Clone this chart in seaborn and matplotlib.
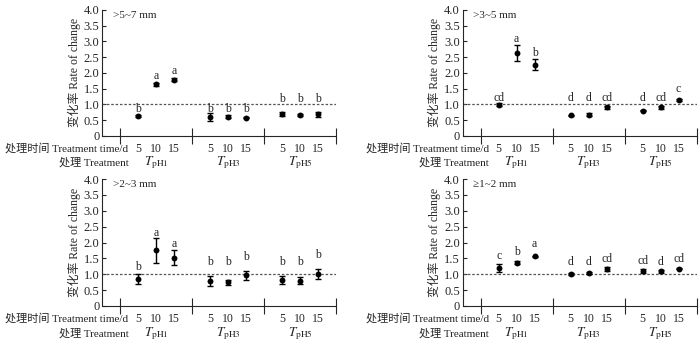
import numpy as np
import pandas as pd
import matplotlib
matplotlib.use('Agg')
import matplotlib.pyplot as plt
import seaborn as sns

# 데이터
times = [5, 10, 15]
treatments = ['pH1', 'pH3', 'pH5']
size_classes = ['>5~7 mm', '>3~5 mm', '>2~3 mm', '≥1~2 mm']

mean_57 = [0.63, 1.64, 1.78, 0.59, 0.61, 0.58, 0.70, 0.66, 0.68]
err_57 = [0.04, 0.05, 0.05, 0.13, 0.04, 0.02, 0.07, 0.03, 0.07]
letters_57 = ['b', 'a', 'a', 'b', 'b', 'b', 'b', 'b', 'b']
letter_y_57 = [0.76, 1.82, 1.97, 0.76, 0.76, 0.76, 1.09, 1.09, 1.09]

mean_35 = [0.99, 2.64, 2.26, 0.65, 0.67, 0.91, 0.80, 0.91, 1.13]
err_35 = [0.04, 0.25, 0.17, 0.01, 0.04, 0.05, 0.02, 0.05, 0.03]
letters_35 = ['cd', 'a', 'b', 'd', 'd', 'cd', 'd', 'cd', 'c']
letter_y_35 = [1.11, 2.98, 2.53, 1.11, 1.11, 1.11, 1.11, 1.11, 1.39]

mean_23 = [0.84, 1.75, 1.52, 0.78, 0.75, 0.97, 0.81, 0.80, 1.00]
err_23 = [0.16, 0.40, 0.23, 0.16, 0.08, 0.14, 0.13, 0.10, 0.16]
letters_23 = ['b', 'a', 'a', 'b', 'b', 'b', 'b', 'b', 'b']
letter_y_23 = [1.12, 2.22, 1.86, 1.28, 1.28, 1.46, 1.28, 1.28, 1.51]

mean_12 = [1.19, 1.36, 1.57, 1.01, 1.04, 1.17, 1.11, 1.09, 1.18]
err_12 = [0.12, 0.05, 0.02, 0.02, 0.02, 0.06, 0.06, 0.05, 0.02]
letters_12 = ['c', 'b', 'a', 'd', 'd', 'cd', 'cd', 'd', 'cd']
letter_y_12 = [1.47, 1.62, 1.85, 1.28, 1.28, 1.37, 1.33, 1.28, 1.37]

panels = [
    (mean_57, err_57, letters_57, letter_y_57),
    (mean_35, err_35, letters_35, letter_y_35),
    (mean_23, err_23, letters_23, letter_y_23),
    (mean_12, err_12, letters_12, letter_y_12),
]

sns.set_style('ticks')
plt.rcParams['font.family'] = ['Liberation Serif', 'Noto Sans CJK SC', 'DejaVu Sans']
plt.rcParams['mathtext.fontset'] = 'stix'
plt.rcParams['axes.unicode_minus'] = False

fig = plt.figure(figsize=(7, 3.43), dpi=100)
rects = [
    [0.146, 0.604, 0.334, 0.367],
    [0.661, 0.604, 0.334, 0.367],
    [0.146, 0.108, 0.334, 0.370],
    [0.661, 0.108, 0.334, 0.370],
]

for rect, label, (mean, err, letters, letter_y) in zip(rects, size_classes, panels):
    ax = fig.add_axes(rect)
    rows = []
    for g, trt in enumerate(treatments):
        for t, tm in enumerate(times):
            i = g * 3 + t
            rows.append({'pos': 2 + g * 4 + t, 'time': tm, 'trt': trt,
                         'mean': mean[i], 'err': err[i],
                         'letter': letters[i], 'ly': letter_y[i]})
    df = pd.DataFrame(rows)

    ax.axhline(1.0, color='#555555', ls=(0, (2, 1.5)), lw=0.9, zorder=1)
    ax.errorbar(df['pos'], df['mean'], yerr=df['err'], fmt='none',
                ecolor='black', elinewidth=1.0, capsize=2.2, capthick=1.0, zorder=2)
    sns.scatterplot(data=df, x='pos', y='mean', ax=ax, color='black',
                    s=18, edgecolor='black', linewidth=0, zorder=3, legend=False)
    for _, r in df.iterrows():
        ax.text(r['pos'], r['ly'], r['letter'], ha='center', va='baseline', fontsize=8.5)

    ax.set_xlim(0, 13)
    ax.set_ylim(0, 4.0)
    ax.set_yticks(np.arange(0, 4.01, 0.5))
    ax.set_yticklabels(['0'] + [f'{v:.1f}' for v in np.arange(0.5, 4.01, 0.5)], fontsize=9)
    ax.tick_params(axis='y', direction='in', length=3, width=0.8, pad=2)

    ax.set_xticks(df['pos'])
    ax.set_xticklabels(df['time'], fontsize=8.5)
    ax.tick_params(axis='x', which='major', length=0, pad=5)
    ax.set_xticks([1, 5, 9, 13], minor=True)
    ax.tick_params(axis='x', which='minor', direction='inout', length=11, width=0.8)

    for sp in ['top', 'right']:
        ax.spines[sp].set_visible(False)
    for sp in ['left', 'bottom']:
        ax.spines[sp].set_linewidth(0.8)

    ax.set_xlabel('')
    ax.set_ylabel('变化率 Rate of change', fontsize=8.5, labelpad=2)

    trans = ax.get_xaxis_transform()
    ax.text(1.45, -0.095, '处理时间 Treatment time/d', transform=trans,
            ha='right', va='center', fontsize=8)
    ax.text(1.45, -0.215, '处理 Treatment', transform=trans,
            ha='right', va='center', fontsize=8)
    for g, trt in enumerate(treatments):
        ax.text(3 + g * 4, -0.215, r'$T_{\mathrm{' + trt + '}}$', transform=trans,
                ha='center', va='center', fontsize=9.5)

    ax.text(0.045, 0.955, label, transform=ax.transAxes, ha='left', va='center', fontsize=8)

fig.savefig('out.png', dpi=100)
